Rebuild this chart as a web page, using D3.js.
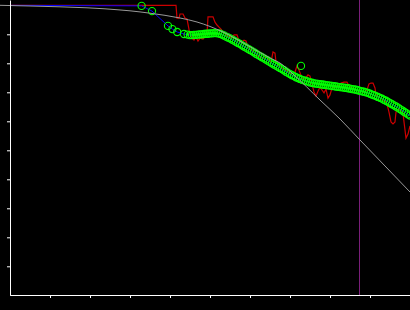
<!DOCTYPE html>
<html>
<head>
<meta charset="utf-8">
<script src="https://cdn.jsdelivr.net/npm/d3@7"></script>
<style>
  html, body { margin: 0; padding: 0; background: #000; }
  svg { display: block; }
</style>
</head>
<body>
<svg id="chart" width="410" height="310"></svg>
<script>
// measured points (log frequency, level in dB)
const measFreq = [-0.2, 3.29, 3.55, 3.95, 4.06, 4.18, 4.35, 4.44,
  4.5, 4.55, 4.6, 4.65, 4.7, 4.75, 4.8, 4.85, 4.9, 4.95,
  5.0, 5.05, 5.1, 5.15, 5.2, 5.25, 5.3, 5.35, 5.4, 5.45,
  5.5, 5.55, 5.6, 5.65, 5.7, 5.75, 5.8, 5.85, 5.9, 5.95,
  6.0, 6.05, 6.1, 6.15, 6.2, 6.25, 6.3, 6.35, 6.4, 6.45,
  6.5, 6.55, 6.6, 6.65, 6.7, 6.75, 6.8, 6.85, 6.9, 6.95,
  7.0, 7.05, 7.1, 7.15, 7.2, 7.25, 7.3, 7.35, 7.4, 7.45,
  7.5, 7.55, 7.6, 7.65, 7.7, 7.75, 7.8, 7.85, 7.9, 7.95,
  8.0, 8.05, 8.1, 8.15, 8.2, 8.25, 8.3, 8.35, 8.4, 8.45,
  8.5, 8.55, 8.6, 8.65, 8.7, 8.75, 8.8, 8.85, 8.9, 8.95,
  9.0, 9.05, 9.1, 9.15, 9.2, 9.25, 9.3, 9.35, 9.4, 9.45,
  9.5, 9.55, 9.6, 9.65, 9.7, 9.75, 9.8, 9.85, 9.9, 9.95, 10.0]
const measLevel = [0, -0.2, -2.0, -7.1, -8.2, -9.2, -9.9, -10.1,
  -10.3, -10.3, -10.2, -10.2, -10.1, -10.0, -10.0, -9.9, -9.8, -9.8,
  -9.7, -9.7, -9.6, -9.6, -9.7, -9.8, -10.1, -10.4, -10.8, -11.1,
  -11.4, -11.8, -12.2, -12.6, -13.0, -13.3, -13.8, -14.2, -14.6, -15.0,
  -15.4, -15.8, -16.2, -16.7, -17.1, -17.5, -17.9, -18.3, -18.7, -19.1,
  -19.6, -20.0, -20.4, -20.8, -21.2, -21.6, -22.0, -22.4, -22.9, -23.3,
  -23.7, -24.1, -24.4, -24.8, -25.1, -25.4, -25.7, -25.9, -26.1, -26.3,
  -26.6, -26.7, -26.9, -27.0, -27.1, -27.2, -27.3, -27.4, -27.5, -27.6,
  -27.7, -27.8, -27.9, -28.0, -28.1, -28.2, -28.3, -28.4, -28.5, -28.6,
  -28.7, -28.9, -29.0, -29.1, -29.3, -29.5, -29.7, -29.8, -30.0, -30.2,
  -30.5, -30.8, -31.0, -31.3, -31.6, -31.9, -32.2, -32.6, -32.9, -33.3,
  -33.7, -34.1, -34.5, -34.9, -35.3, -35.8, -36.2, -36.7, -37.1, -37.6, -38.0]

// stray point, not joined
const strayFreq = [7.275]
const strayLevel = [-20.9]

// raw trace
const rawFreq = [0, 4.15, 4.175, 4.225, 4.25, 4.325, 4.375, 4.425, 4.45, 4.5,
  4.55, 4.6, 4.65, 4.7, 4.75, 4.825, 4.875, 4.925, 4.95, 5.075,
  5.125, 5.175, 5.225, 5.275, 5.325, 5.4, 5.475, 5.55, 5.6, 5.675,
  5.725, 5.8, 5.85, 5.9, 5.95, 6.025, 6.1, 6.175, 6.25, 6.325,
  6.4, 6.475, 6.525, 6.575, 6.625, 6.65, 6.725, 6.825, 6.925, 7.025,
  7.125, 7.175, 7.225, 7.3, 7.375, 7.45, 7.5, 7.55, 7.6, 7.65,
  7.7, 7.75, 7.8, 7.85, 7.9, 7.95, 8.0, 8.05, 8.125, 8.2,
  8.275, 8.35, 8.425, 8.475, 8.55, 8.65, 8.75, 8.85, 8.925, 8.975,
  9.025, 9.075, 9.125, 9.15, 9.225, 9.3, 9.375, 9.425, 9.475, 9.525,
  9.575, 9.625, 9.65, 9.7, 9.775, 9.825, 9.85, 9.9, 9.95, 10.0]
const rawLevel = [0, 0, -4.4, -4.4, -3.0, -3.0, -4.4, -4.7, -6.5, -10.2,
  -11.3, -12.0, -10.9, -12.3, -11.3, -11.6, -10.6, -9.9, -4.0, -4.0,
  -5.8, -6.8, -7.5, -8.2, -9.2, -10.2, -10.9, -11.3, -10.2, -10.2,
  -12.3, -12.7, -12.0, -12.3, -14.4, -15.4, -16.1, -17.1, -17.8, -18.2,
  -17.5, -18.9, -19.6, -16.1, -16.5, -19.6, -20.9, -22.0, -22.7, -23.7,
  -23.0, -20.9, -22.3, -25.1, -25.4, -24.0, -24.4, -27.1, -29.9, -31.3,
  -29.6, -28.2, -29.2, -30.2, -28.9, -32.0, -30.9, -28.5, -28.2, -27.8,
  -26.8, -26.5, -26.5, -27.8, -28.5, -29.2, -29.6, -29.9, -29.2, -27.1,
  -26.8, -26.8, -28.5, -30.9, -31.6, -32.3, -33.0, -34.0, -36.8, -40.2,
  -40.9, -40.2, -36.8, -35.8, -36.1, -37.1, -40.2, -45.8, -44.4, -41.6]

// model curve
const modelFreq = [-0.25, 0.5, 1.25, 1.925, 2.375, 2.7, 3.0, 3.5, 4.25, 4.675,
  5.325, 5.925, 6.5, 6.75, 7.075, 7.75, 8.25, 8.75, 9.375, 10.0]
const modelLevel = [0, -0.24, -0.52, -0.86, -1.21, -1.55, -1.9, -2.72, -4.38, -5.76,
  -9.21, -13.69, -18.17, -19.9, -23.69, -32.66, -39.21, -46.45, -55.41, -64.38]

const cutoffFreq = 8.725

const xTicks = [1, 2, 3, 4, 5, 6, 7, 8, 9]
const yTicks = [-90, -80, -70, -60, -50, -40, -30, -20, -10]

const svg = d3.select('#chart')
const x = d3.scaleLinear().domain([0, 10]).range([10, 410])
const y = d3.scaleLinear().domain([-100, 1.83]).range([295.3, 0])

svg.append('defs').append('clipPath')
  .attr('id', 'plot')
  .append('rect')
  .attr('x', 10).attr('y', 0).attr('width', 400).attr('height', 296)

svg.append('line')
  .attr('x1', x(cutoffFreq) + 0.5).attr('x2', x(cutoffFreq) + 0.5)
  .attr('y1', 0).attr('y2', 295)
  .attr('stroke', '#7a1f7a')
  .attr('stroke-width', 1)

const line = d3.line().x(d => x(d[0])).y(d => y(d[1]))

const plot = svg.append('g').attr('clip-path', 'url(#plot)')

plot.append('path')
  .datum(rawFreq.map((f, i) => [f, rawLevel[i]]))
  .attr('fill', 'none')
  .attr('stroke', '#cc0000')
  .attr('stroke-width', 1.2)
  .attr('d', line)

const meas = measFreq.map((f, i) => [f, measLevel[i]])

plot.append('path')
  .datum(meas)
  .attr('fill', 'none')
  .attr('stroke', '#0000ff')
  .attr('stroke-width', 1)
  .attr('d', line)

plot.append('g')
  .selectAll('circle')
  .data(meas.concat(strayFreq.map((f, i) => [f, strayLevel[i]])))
  .enter()
  .append('circle')
  .attr('cx', d => x(d[0]))
  .attr('cy', d => y(d[1]))
  .attr('r', 3.6)
  .attr('fill', 'none')
  .attr('stroke', '#00ff00')
  .attr('stroke-width', 1.1)

svg.append('path')
  .datum(modelFreq.map((f, i) => [f, modelLevel[i]]))
  .attr('fill', 'none')
  .attr('stroke', '#999999')
  .attr('stroke-width', 1)
  .attr('d', line.curve(d3.curveMonotoneX))

const xAxis = svg.append('g')
  .attr('transform', 'translate(0,295)')
  .call(d3.axisBottom(x).tickValues(xTicks).tickSize(3).tickSizeOuter(0).tickFormat(''))

const yAxis = svg.append('g')
  .attr('transform', 'translate(10,0)')
  .call(d3.axisLeft(y).tickValues(yTicks).tickSize(3).tickSizeOuter(0).tickFormat(''))

svg.selectAll('.domain, .tick line')
  .attr('stroke', '#ffffff')
  .attr('stroke-width', 1)
</script>
</body>
</html>
